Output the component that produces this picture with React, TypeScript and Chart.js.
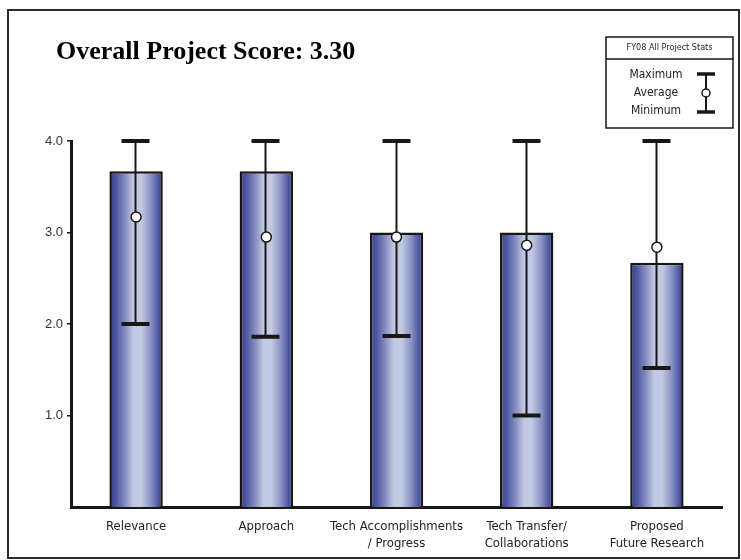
import React, { useEffect, useRef } from 'react';
import Chart from 'chart.js/auto';

// ---- data ----
const categories: string[][] = [
  ['Relevance'],
  ['Approach'],
  ['Tech Accomplishments', '/ Progress'],
  ['Tech Transfer/', 'Collaborations'],
  ['Proposed', 'Future Research'],
];
const barValues = [3.67, 3.67, 3.0, 3.0, 2.67];
const maxValues = [4.0, 4.0, 4.0, 4.0, 4.0];
const avgValues = [3.17, 2.95, 2.95, 2.86, 2.84];
const minValues = [2.0, 1.86, 1.87, 1.0, 1.52];
const yTicks = [1, 2, 3, 4];
const titleText = 'Overall Project Score: 3.30';
const legendTitle = 'FY08 All Project Stats';
const legendLabels = ['Maximum', 'Average', 'Minimum'];

const INK = '#1a1616';
const COND = '"DejaVu Sans Condensed", "Liberation Sans", sans-serif';
const SANS = '"Liberation Sans", Arial, sans-serif';

const titleShiftPlugin = {
  id: 'titleShift',
  afterLayout(chart: any) {
    const tb = chart.titleBlock;
    if (tb) {
      tb.left = 56;
    }
  },
};

const whiskerPlugin = {
  id: 'whiskers',
  afterDatasetDraw(chart: any, args: any) {
    if (args.index !== 0) return;
    const { ctx } = chart;
    const x = chart.scales.x;
    const y = chart.scales.y;
    ctx.save();
    ctx.strokeStyle = INK;
    categories.forEach((_, i) => {
      const px = Math.round(x.getPixelForValue(i)) - 0.5;
      const top = y.getPixelForValue(maxValues[i]);
      const bot = y.getPixelForValue(minValues[i]);
      ctx.lineWidth = 2;
      ctx.beginPath();
      ctx.moveTo(px, top);
      ctx.lineTo(px, bot);
      ctx.stroke();
      ctx.lineWidth = 4;
      ctx.beginPath();
      ctx.moveTo(px - 14, top);
      ctx.lineTo(px + 14, top);
      ctx.moveTo(px - 14, bot);
      ctx.lineTo(px + 14, bot);
      ctx.stroke();
    });
    ctx.restore();
  },
};

const legendPlugin = {
  id: 'statsLegend',
  afterDraw(chart: any) {
    const { ctx } = chart;
    const L = 606, T = 37, R = 733, B = 128;
    ctx.save();
    ctx.fillStyle = '#fff';
    ctx.fillRect(L, T, R - L, B - T);
    ctx.strokeStyle = INK;
    ctx.lineWidth = 1.5;
    ctx.strokeRect(L, T, R - L, B - T);
    ctx.beginPath();
    ctx.moveTo(L, 59);
    ctx.lineTo(R, 59);
    ctx.stroke();
    ctx.fillStyle = '#222';
    ctx.textAlign = 'center';
    ctx.textBaseline = 'middle';
    ctx.font = `9px ${COND}`;
    ctx.fillText(legendTitle, (L + R) / 2, 48);
    ctx.font = `12px ${COND}`;
    const ys = [75, 93, 111];
    legendLabels.forEach((t, i) => ctx.fillText(t, 656, ys[i]));
    // symbol
    const sx = 706;
    ctx.lineWidth = 2;
    ctx.beginPath();
    ctx.moveTo(sx, 74);
    ctx.lineTo(sx, 112);
    ctx.stroke();
    ctx.lineWidth = 3.5;
    ctx.beginPath();
    ctx.moveTo(sx - 9, 74);
    ctx.lineTo(sx + 9, 74);
    ctx.moveTo(sx - 9, 112);
    ctx.lineTo(sx + 9, 112);
    ctx.stroke();
    ctx.fillStyle = '#fff';
    ctx.lineWidth = 1.5;
    ctx.beginPath();
    ctx.arc(sx, 93, 4, 0, Math.PI * 2);
    ctx.fill();
    ctx.stroke();
    ctx.restore();
  },
};

export default function App() {
  const ref = useRef<HTMLCanvasElement | null>(null);

  useEffect(() => {
    if (!ref.current) return;
    const chart = new Chart(ref.current, {
      type: 'bar',
      data: {
        labels: categories,
        datasets: [
          {
            type: 'bar',
            data: barValues,
            barPercentage: 0.41,
            categoryPercentage: 1.0,
            borderColor: INK,
            borderWidth: 2.5,
            borderSkipped: 'bottom',
            backgroundColor: (c: any) => {
              const chartI = c.chart;
              const xs = chartI.scales && chartI.scales.x;
              if (!xs || c.dataIndex === undefined) return '#7f88bf';
              const center = xs.getPixelForValue(c.dataIndex);
              const w = (xs.width / categories.length) * 0.41;
              if (!Number.isFinite(center) || !Number.isFinite(w) || w <= 0) return '#7f88bf';
              const g = chartI.ctx.createLinearGradient(center - w / 2, 0, center + w / 2, 0);
              g.addColorStop(0, '#36408c');
              g.addColorStop(0.12, '#4c569f');
              g.addColorStop(0.3, '#8890c2');
              g.addColorStop(0.45, '#c2c9e2');
              g.addColorStop(0.6, '#c2c9e2');
              g.addColorStop(0.78, '#8890c2');
              g.addColorStop(0.92, '#4c569f');
              g.addColorStop(1, '#36408c');
              return g;
            },
            order: 2,
          } as any,
          {
            type: 'line',
            data: avgValues,
            showLine: false,
            pointRadius: 5,
            pointHoverRadius: 5,
            pointBackgroundColor: '#ffffff',
            pointBorderColor: INK,
            pointBorderWidth: 1.5,
            order: 1,
          } as any,
        ],
      },
      options: {
        responsive: false,
        animation: false,
        devicePixelRatio: 1,
        layout: { padding: { left: 0, right: 19, top: 0, bottom: 0 } },
        plugins: {
          legend: { display: false },
          tooltip: { enabled: false },
          title: {
            display: true,
            text: titleText,
            align: 'start',
            color: '#000',
            font: { family: '"Liberation Serif", "Times New Roman", serif', size: 26, weight: 'bold', lineHeight: 1.2 },
            padding: { top: 36.4, bottom: 73.4 },
          },
        },
        scales: {
          x: {
            grid: { display: false, drawTicks: false },
            border: { display: true, color: INK, width: 3 },
            ticks: {
              color: '#222',
              padding: 11.5,
              maxRotation: 0,
              autoSkip: false,
              font: { family: COND, size: 13, lineHeight: 1.3 },
            },
            afterFit: (s: any) => {
              s.height = 53;
            },
          },
          y: {
            min: 0,
            max: 4,
            grid: { drawOnChartArea: false, tickLength: 4, color: INK, lineWidth: 1.5 },
            border: { display: true, color: INK, width: 3 },
            ticks: {
              color: '#333',
              padding: 4,
              font: { family: SANS, size: 13 },
              callback: (v: any) => Number(v).toFixed(1),
            },
            afterBuildTicks: (s: any) => {
              s.ticks = yTicks.map((v) => ({ value: v }));
            },
            afterFit: (s: any) => {
              s.width = 71;
            },
          },
        },
      },
      plugins: [titleShiftPlugin, whiskerPlugin, legendPlugin],
    });
    return () => chart.destroy();
  }, []);

  return (
    <div style={{ position: 'absolute', left: 0, top: 0, width: 741, height: 560, background: '#fff' }}>
      <div
        style={{
          position: 'absolute',
          left: 7,
          top: 9,
          width: 733,
          height: 550,
          boxSizing: 'border-box',
          border: '2px solid #2a2a2a',
        }}
      />
      <canvas ref={ref} width={741} height={560} style={{ position: 'absolute', left: 0, top: 0 }} />
    </div>
  );
}
